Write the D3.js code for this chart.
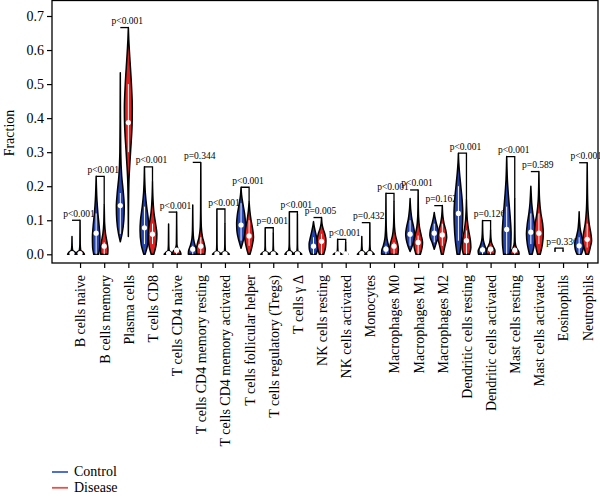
<!DOCTYPE html>
<html lang="en">
<head>
<meta charset="UTF-8">
<title>Immune cell fractions: Control vs Disease</title>
<script src="https://d3js.org/d3.v7.min.js"></script>
<style>
    body { margin: 0; background: #fff; }
    svg { display: block; font-family: 'Liberation Serif', 'Times New Roman', serif; }
</style>
</head>
<body>
<div id="chart"></div>
<script>
// Categories (x axis)
const cellTypes = [
    'B cells naive', 'B cells memory', 'Plasma cells', 'T cells CD8', 'T cells CD4 naive',
    'T cells CD4 memory resting', 'T cells CD4 memory activated', 'T cells follicular helper',
    'T cells regulatory (Tregs)', 'T cells γ Δ', 'NK cells resting', 'NK cells activated',
    'Monocytes', 'Macrophages M0', 'Macrophages M1', 'Macrophages M2', 'Dendritic cells resting',
    'Dendritic cells activated', 'Mast cells resting', 'Mast cells activated', 'Eosinophils', 'Neutrophils'
];

const pLabels = [
    'p<0.001', 'p<0.001', 'p<0.001', 'p<0.001', 'p<0.001', 'p=0.344', 'p<0.001', 'p<0.001',
    'p=0.001', 'p<0.001', 'p=0.005', 'p<0.001', 'p=0.432', 'p<0.001', 'p<0.001', 'p=0.162',
    'p<0.001', 'p=0.126', 'p<0.001', 'p=0.589', 'p=0.336', 'p<0.001'
];

const groups = ['Control', 'Disease'];

// medians (white dots)
const controlMedian = [0.002, 0.062, 0.143, 0.078, 0.002, 0.015, 0.001, 0.086, 0.001, 0.002, 0.024,
    0.001, 0.002, 0.015, 0.059, 0.062, 0.12, 0.013, 0.073, 0.065, 0.0, 0.025];
const diseaseMedian = [0.002, 0.024, 0.387, 0.059, 0.012, 0.024, 0.001, 0.054, 0.001, 0.001, 0.038,
    0.001, 0.002, 0.024, 0.035, 0.057, 0.04, 0.015, 0.012, 0.062, 0.0, 0.044];

// violin outlines: [fraction, relative density]
const controlShape = [
    [[0, 1], [0.006, 0.7], [0.012, 0.15], [0.025, 0.04], [0.052, 0]],
    [[0, 0.55], [0.02, 0.8], [0.05, 0.85], [0.08, 0.7], [0.12, 0.4], [0.16, 0.18], [0.2, 0.06], [0.229, 0]],
    [[0.037, 0], [0.06, 0.4], [0.1, 0.8], [0.14, 0.9], [0.18, 0.7], [0.23, 0.32], [0.3, 0.1], [0.4, 0.04], [0.533, 0]],
    [[0, 0.15], [0.03, 0.75], [0.07, 1], [0.1, 0.9], [0.14, 0.5], [0.18, 0.2], [0.22, 0.06], [0.257, 0]],
    [[0, 1], [0.006, 0.6], [0.012, 0.12], [0.03, 0.04], [0.089, 0]],
    [[0, 1], [0.01, 0.95], [0.025, 0.55], [0.045, 0.2], [0.07, 0.07], [0.145, 0]],
    [[0, 1], [0.005, 0.6], [0.01, 0.1], [0.03, 0.03], [0.133, 0]],
    [[0.018, 0], [0.04, 0.5], [0.07, 0.95], [0.09, 1], [0.12, 0.8], [0.15, 0.4], [0.175, 0.12], [0.197, 0]],
    [[0, 1], [0.005, 0.6], [0.01, 0.1], [0.025, 0.03], [0.078, 0]],
    [[0, 1], [0.005, 0.7], [0.012, 0.15], [0.03, 0.03], [0.125, 0]],
    [[0, 0.6], [0.015, 0.95], [0.03, 1], [0.05, 0.7], [0.07, 0.35], [0.085, 0.12], [0.096, 0]],
    [[0, 1], [0.004, 0.5], [0.008, 0.1], [0.02, 0.03], [0.044, 0]],
    [[0, 1], [0.006, 0.6], [0.012, 0.12], [0.025, 0.04], [0.052, 0]],
    [[0, 1], [0.012, 0.95], [0.025, 0.6], [0.045, 0.25], [0.07, 0.1], [0.1, 0.04], [0.179, 0]],
    [[0.008, 0], [0.025, 0.5], [0.045, 0.9], [0.06, 1], [0.08, 0.8], [0.1, 0.45], [0.13, 0.15], [0.164, 0]],
    [[0.015, 0], [0.035, 0.5], [0.055, 1], [0.07, 0.9], [0.09, 0.5], [0.11, 0.15], [0.123, 0]],
    [[0, 0.3], [0.04, 0.7], [0.09, 0.95], [0.12, 1], [0.16, 0.85], [0.2, 0.55], [0.24, 0.25], [0.27, 0.08], [0.297, 0]],
    [[0, 0.9], [0.01, 1], [0.022, 0.6], [0.04, 0.2], [0.06, 0.06], [0.099, 0]],
    [[0, 0.7], [0.03, 0.95], [0.06, 1], [0.1, 0.85], [0.14, 0.6], [0.18, 0.35], [0.22, 0.15], [0.26, 0.05], [0.287, 0]],
    [[0, 0.3], [0.03, 0.8], [0.06, 1], [0.09, 0.8], [0.12, 0.45], [0.15, 0.2], [0.18, 0.07], [0.2, 0]],
    [[0, 0.1], [0.004, 0.02], [0.018, 0]],
    [[0, 0.5], [0.015, 0.9], [0.03, 1], [0.05, 0.65], [0.07, 0.3], [0.1, 0.08], [0.125, 0]]
];

const diseaseShape = [
    [[0, 1], [0.006, 0.7], [0.012, 0.15], [0.03, 0.04], [0.1, 0]],
    [[0, 0.8], [0.015, 0.85], [0.035, 0.65], [0.06, 0.3], [0.09, 0.1], [0.12, 0.04], [0.145, 0]],
    [[0.052, 0], [0.15, 0.05], [0.22, 0.15], [0.3, 0.5], [0.38, 0.85], [0.43, 0.9], [0.5, 0.7], [0.58, 0.32], [0.63, 0.1], [0.666, 0]],
    [[0, 0.3], [0.03, 0.85], [0.06, 1], [0.09, 0.7], [0.12, 0.35], [0.16, 0.12], [0.213, 0]],
    [[0, 1], [0.008, 0.8], [0.016, 0.3], [0.03, 0.06], [0.124, 0]],
    [[0, 0.9], [0.015, 1], [0.03, 0.8], [0.05, 0.4], [0.08, 0.12], [0.13, 0.04], [0.27, 0]],
    [[0, 1], [0.005, 0.6], [0.01, 0.1], [0.03, 0.03], [0.09, 0]],
    [[0, 0.2], [0.025, 0.7], [0.05, 1], [0.075, 0.8], [0.1, 0.45], [0.13, 0.15], [0.155, 0]],
    [[0, 1], [0.005, 0.6], [0.01, 0.1], [0.025, 0.03], [0.062, 0]],
    [[0, 1], [0.005, 0.6], [0.01, 0.1], [0.03, 0.03], [0.118, 0]],
    [[0, 0.5], [0.02, 0.9], [0.04, 1], [0.06, 0.75], [0.075, 0.35], [0.09, 0.1], [0.108, 0]],
    [[0, 0.5], [0.004, 0.25], [0.008, 0.05], [0.02, 0.02], [0.035, 0]],
    [[0, 1], [0.006, 0.6], [0.012, 0.12], [0.03, 0.03], [0.093, 0]],
    [[0, 0.9], [0.015, 1], [0.035, 0.75], [0.055, 0.35], [0.08, 0.12], [0.11, 0.04], [0.155, 0]],
    [[0, 0.5], [0.02, 0.9], [0.035, 1], [0.055, 0.7], [0.08, 0.3], [0.11, 0.1], [0.14, 0.04], [0.189, 0]],
    [[0, 0.2], [0.025, 0.6], [0.05, 1], [0.07, 0.8], [0.09, 0.4], [0.11, 0.15], [0.143, 0]],
    [[0, 0.7], [0.02, 1], [0.04, 0.9], [0.07, 0.5], [0.1, 0.2], [0.13, 0.07], [0.16, 0]],
    [[0, 0.9], [0.01, 1], [0.022, 0.6], [0.035, 0.2], [0.05, 0.06], [0.071, 0]],
    [[0, 1], [0.008, 0.9], [0.018, 0.4], [0.035, 0.1], [0.07, 0.04], [0.163, 0]],
    [[0, 0.3], [0.03, 0.8], [0.06, 1], [0.09, 0.85], [0.12, 0.45], [0.16, 0.15], [0.2, 0.05], [0.243, 0]],
    [[0, 0.08], [0.004, 0.02], [0.01, 0]],
    [[0, 0.3], [0.02, 0.7], [0.04, 1], [0.06, 0.85], [0.09, 0.45], [0.13, 0.18], [0.18, 0.07], [0.23, 0.03], [0.269, 0]]
];

const yTicks = [0, 0.1, 0.2, 0.3, 0.4, 0.5, 0.6, 0.7];

// Configuration
const config = {
    width: 600,
    height: 497,
    box: { left: 52, right: 598, top: 0.5, bottom: 263 },
    fill: { Control: '#2443ad', Disease: '#e0201e' },
    legendColor: { Control: '#3d5fd2', Disease: '#e8504a' },
    halfWidth: 4.4
};

const svg = d3.select('#chart').append('svg')
    .attr('width', config.width)
    .attr('height', config.height);

// Scales: control violin of group i sits at 3i, disease at 3i + 1
const x = d3.scaleLinear().domain([0, 64]).range([72, 587.2]);
const y = d3.scaleLinear().domain([0, 0.7]).range([254.3, 16]);
const w = d3.scaleLinear().domain([0, 1]).range([0, config.halfWidth]);

// Axes
const yAxis = svg.append('g')
    .attr('transform', `translate(${config.box.left},0)`)
    .call(d3.axisLeft(y).tickValues(yTicks).tickFormat(d3.format('.1f')).tickSize(5));
yAxis.select('.domain').remove();
yAxis.selectAll('line').attr('stroke', '#000').attr('stroke-width', 1.2);
yAxis.selectAll('text')
    .attr('fill', '#000')
    .style('font-size', '14px')
    .style('font-family', "'Liberation Serif', serif");

const xAxis = svg.append('g')
    .attr('transform', `translate(0,${config.box.bottom})`)
    .call(d3.axisBottom(x)
        .tickValues(cellTypes.map((d, i) => 3 * i + 1))
        .tickFormat((d, i) => cellTypes[i])
        .tickSize(5));
xAxis.select('.domain').remove();
xAxis.selectAll('line').attr('stroke', '#000').attr('stroke-width', 1.2);
xAxis.selectAll('text')
    .attr('fill', '#000')
    .attr('transform', 'rotate(-90)')
    .attr('x', -12)
    .attr('y', 0)
    .attr('dy', '0.35em')
    .style('text-anchor', 'end')
    .style('font-size', '14px')
    .style('font-family', "'Liberation Serif', serif");

// Plot frame
svg.append('rect')
    .attr('x', config.box.left)
    .attr('y', config.box.top)
    .attr('width', config.box.right - config.box.left)
    .attr('height', config.box.bottom - config.box.top)
    .attr('fill', 'none')
    .attr('stroke', '#000')
    .attr('stroke-width', 1.3);

// Y label
svg.append('text')
    .attr('transform', 'translate(13.5,133) rotate(-90)')
    .attr('text-anchor', 'middle')
    .style('font-size', '14px')
    .text('Fraction');

// Violins
function drawViolin(g, shape, median, cx, color) {
    const area = d3.area()
        .y(d => y(d[0]))
        .x0(d => cx - w(d[1]))
        .x1(d => cx + w(d[1]))
        .curve(d3.curveMonotoneY);

    g.append('path')
        .attr('d', area(shape))
        .attr('fill', color)
        .attr('stroke', '#000')
        .attr('stroke-width', 1.5)
        .attr('stroke-linejoin', 'round');

    // thin white centre line through the wide part of the body
    const body = shape.filter(d => d[1] >= 0.4);
    if (body.length > 1) {
        g.append('line')
            .attr('x1', cx).attr('x2', cx)
            .attr('y1', y(body[0][0])).attr('y2', y(body[body.length - 1][0]))
            .attr('stroke', '#fff')
            .attr('stroke-width', 1);
    }

    g.append('circle')
        .attr('cx', cx)
        .attr('cy', y(median))
        .attr('r', 2.6)
        .attr('fill', '#fff');
}

const violins = svg.append('g');
cellTypes.forEach((name, i) => {
    const g = violins.append('g');
    drawViolin(g, controlShape[i], controlMedian[i], x(3 * i), config.fill.Control);
    drawViolin(g, diseaseShape[i], diseaseMedian[i], x(3 * i + 1), config.fill.Disease);

    // bracket + p value
    const cMax = controlShape[i][controlShape[i].length - 1][0];
    const dMax = diseaseShape[i][diseaseShape[i].length - 1][0];
    const top = Math.max(cMax, dMax);
    g.append('path')
        .attr('d', `M${x(3 * i)},${y(top)}H${x(3 * i + 1)}V${y(dMax)}`)
        .attr('fill', 'none')
        .attr('stroke', '#000')
        .attr('stroke-width', 1.3);
    g.append('text')
        .attr('x', x(3 * i) + 7)
        .attr('y', y(top + 0.02))
        .attr('dy', '0.35em')
        .attr('text-anchor', 'middle')
        .style('font-size', '9.5px')
        .text(pLabels[i]);
});

// Legend
const legend = svg.append('g');
groups.forEach((grp, i) => {
    const ly = 472 + i * 15.8;
    legend.append('line')
        .attr('x1', 52).attr('x2', 68)
        .attr('y1', ly).attr('y2', ly)
        .attr('stroke', config.legendColor[grp])
        .attr('stroke-width', 1.8);
    legend.append('text')
        .attr('x', 74)
        .attr('y', ly)
        .attr('dy', '0.32em')
        .style('font-size', '14px')
        .text(grp);
});
</script>
</body>
</html>
